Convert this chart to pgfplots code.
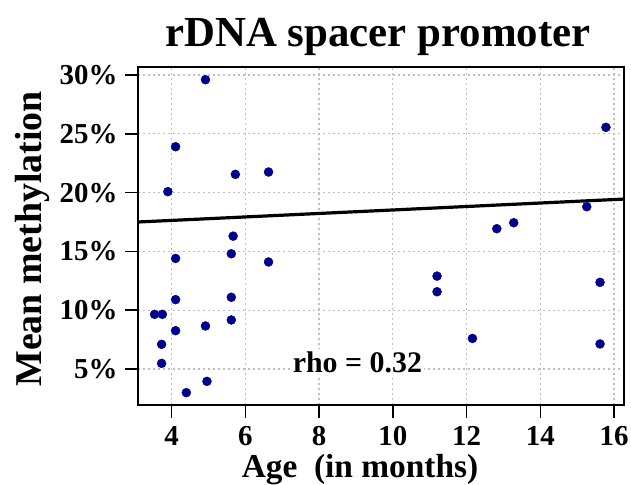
\documentclass[border=0pt]{standalone}
\usepackage{fontspec}
\setmainfont{Liberation Serif}
\usepackage{pgfplots}
\pgfplotsset{compat=1.18}
\definecolor{ptblue}{RGB}{0,0,139}
\begin{document}
\begin{tikzpicture}
\begin{axis}[
  scale only axis, width=486bp, height=338bp,
  xmin=3.09, xmax=16.27, ymin=1.94, ymax=30.68,
  xtick={4,6,...,16}, ytick={5,10,...,30},
  yticklabel={\pgfmathprintnumber{\tick}\%},
  xtick pos=left, ytick pos=left,
  tick align=outside, major tick length=13bp,
  tick style={line width=1.6bp, black},
  axis line style={line width=1.6bp},
  grid=major,
  grid style={line width=1.3bp, color=black!25, dash pattern=on 2bp off 3bp},
  ticklabel style={font=\fontsize{29}{31}\selectfont\bfseries},
  xticklabel style={yshift=-5bp},
  yticklabel style={xshift=-4bp},
  /pgf/number format/assume math mode=true,
]
\addplot[only marks, mark=*, mark size=4.5bp, color=ptblue] coordinates {
(4.92,29.6) (4.11,23.9) (5.73,21.55) (6.63,21.75) (3.90,20.08)
(5.67,16.3) (5.62,14.8) (4.11,14.4) (6.63,14.1) (4.11,10.9)
(5.62,11.1) (3.54,9.65) (3.75,9.65) (5.62,9.17) (4.92,8.66)
(4.11,8.26) (3.73,7.1) (3.73,5.48) (4.96,3.95) (4.40,2.99)
(15.78,25.55) (15.26,18.8) (13.28,17.44) (12.82,16.93) (11.2,12.9)
(11.2,11.57) (15.62,12.37) (12.16,7.6) (15.62,7.13)
};
\addplot[line width=3.2bp, black] coordinates {(3.09,17.5) (16.27,19.45)};
\node[fill=white, inner sep=2bp, font=\fontsize{30}{32}\selectfont\bfseries] at (axis cs:9.04,5.6) {rho = 0.32};
\end{axis}
\node[anchor=base, font=\fontsize{43}{45}\selectfont\bfseries] at ([xshift=-3bp,yshift=20bp]current axis.north) {rDNA spacer promoter};
\node[anchor=base, font=\fontsize{33.5}{35}\selectfont\bfseries] at ([xshift=-21bp,yshift=-72bp]current axis.south) {Age\ \ (in months)};
\node[rotate=90, anchor=base, font=\fontsize{38}{40}\selectfont\bfseries] at ([xshift=-96bp,yshift=-3bp]current axis.west) {Mean methylation};
\pgfresetboundingbox
\path[use as bounding box] ([xshift=-138bp,yshift=-80bp]current axis.south west) rectangle ([xshift=7bp,yshift=67bp]current axis.north east);
\end{tikzpicture}
\end{document}
